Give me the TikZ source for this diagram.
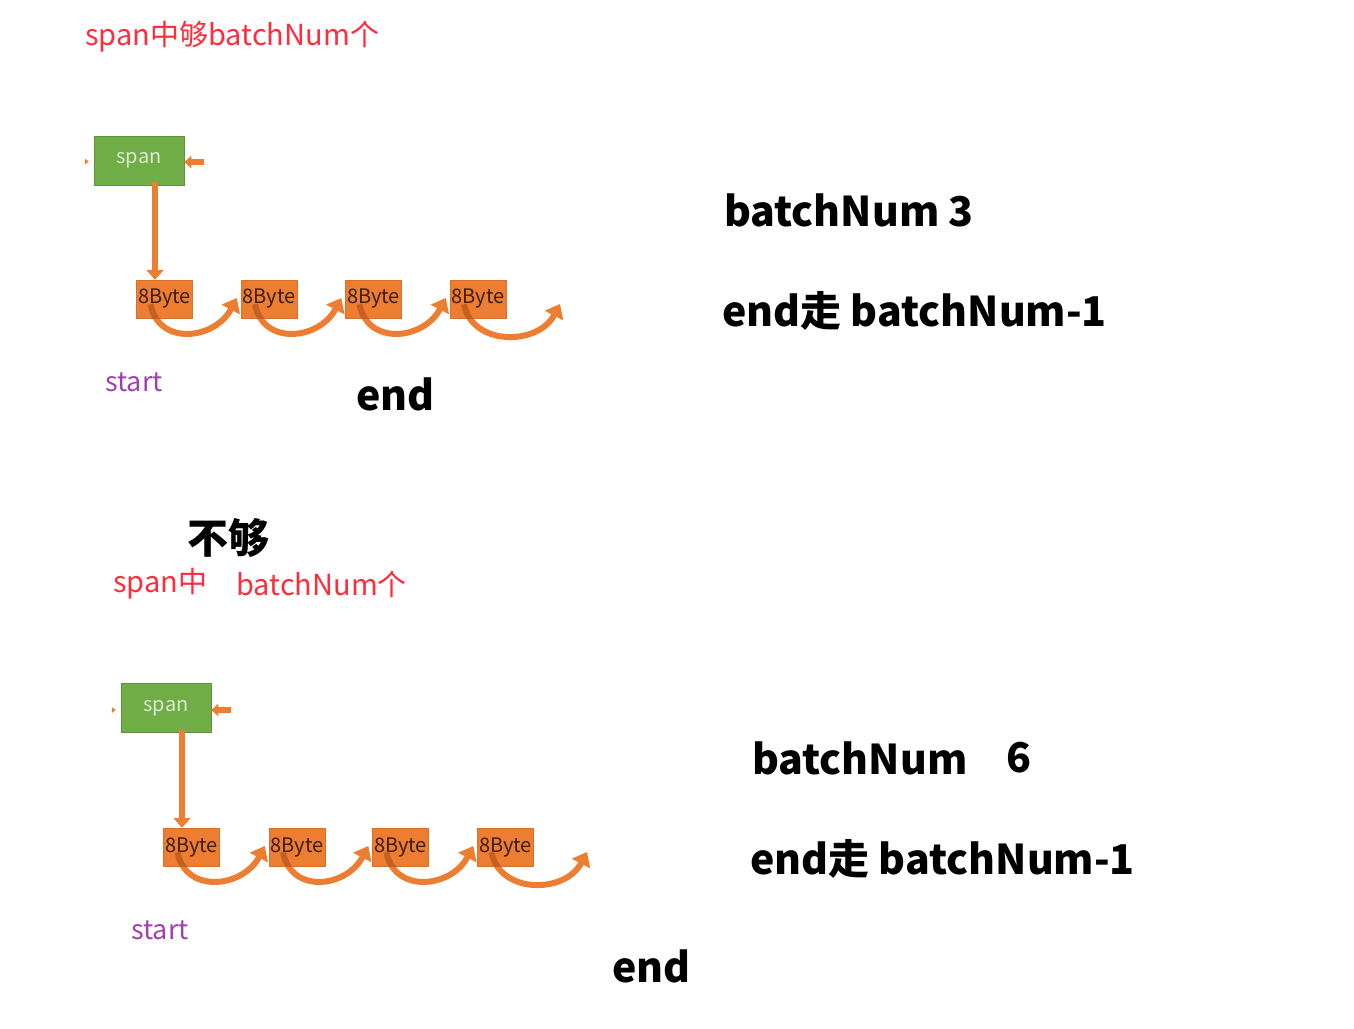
\documentclass[tikz,border=0pt]{standalone}
\usepackage{fontspec}
\setmainfont{Noto Sans CJK SC}
\usetikzlibrary{arrows.meta,calc}
\definecolor{og}{HTML}{ED7D31}
\definecolor{ogd}{HTML}{B8571C}
\definecolor{gr}{HTML}{70AD47}
\definecolor{rd}{HTML}{FF2D3C}
\definecolor{pu}{HTML}{A040B0}
\newcommand\hopdraw[2]{%
  \draw[hop] ($(#1.south)+(-14,-14)$) .. controls +(8,42) and +(-22,42) .. (#2);
  \begin{scope}
    \clip (#1.south west) rectangle (#1.north east);
    \draw[hop, draw=ogd, opacity=0.75] ($(#1.south)+(-14,-14)$) .. controls +(8,42) and +(-22,42) .. (#2);
  \end{scope}}
\begin{document}
\begin{tikzpicture}[x=1pt,y=-1pt,
 txt/.style={inner sep=0, anchor=west},
 bigtxt/.style={txt, font=\fontsize{41}{44}\selectfont\bfseries},
 redtxt/.style={txt, text=rd, font=\fontsize{29}{31}\selectfont},
 starttxt/.style={txt, text=pu, font=\fontsize{27}{29}\selectfont},
 spanbox/.style={fill=gr, draw=gr!85!black, line width=0.5, minimum width=90, minimum height=49, text=gr!25!white, font=\fontsize{20}{22}\selectfont, inner sep=0},
 bytebox/.style={fill=og, draw=og!90!black, line width=0.4, minimum width=56, minimum height=38, inner sep=0, text=black!75!og, font=\fontsize{20}{21}\selectfont},
 downarrow/.style={draw=og, line width=6.5, -{Triangle[width=17,length=10]}},
 smallarrow/.style={draw=og, line width=6, -{Triangle[width=12,length=7]}},
 hop/.style={draw=og, line width=6, -{Triangle[width=20,length=13]}},
]
\useasboundingbox (0,0) rectangle (1354,1028);

% ---------- top part ----------
\node[redtxt] (t1) at (85,37) {span中够batchNum个};
\node[spanbox] (s1) at (139,160.5) {\raisebox{-2pt}{span}};
\node[bytebox] (a1) at (164.5,299) {8Byte};
\node[bytebox] (a2) at (269,299) {8Byte};
\node[bytebox] (a3) at (373.5,299) {8Byte};
\node[bytebox] (a4) at (478,299) {8Byte};
\coordinate (ae) at (560,304);
\coordinate (ar) at (204,162);
\draw[downarrow] ($(s1.south)+(16,-3)$) -- ($(a1.north)+(-9.5,0)$);
\draw[smallarrow] (ar) -- ($(s1.east)+(0,1.5)$);
\fill[og] ($(s1.west)+(-9,-2)$) -- ++(0,6) -- ++(4,-3) -- cycle;
\hopdraw{a1}{$(a2.west)+(-4,-1)$}
\hopdraw{a2}{$(a3.west)+(-4,-1)$}
\hopdraw{a3}{$(a4.west)+(-4,-1)$}
\hopdraw{a4}{ae}
\node[starttxt] (st1) at (105,382) {start};
\node[bigtxt] (e1) at (356,394) {end};
\node[bigtxt] (b1) at (724,210) {batchNum 3};
\node[bigtxt] (w1) at (722,311) {end走 batchNum-1};

% ---------- bottom part ----------
\node[bigtxt] (n2) at (187,538) {不够};
\node[redtxt] (t2a) at (113,584) {span中};
\node[redtxt] (t2b) at (236,584) {batchNum个};
\node[spanbox] (s2) at (166,708) {\raisebox{-2pt}{span}};
\node[bytebox] (c1) at (191.5,847) {8Byte};
\node[bytebox] (c2) at (297,847) {8Byte};
\node[bytebox] (c3) at (400.5,847) {8Byte};
\node[bytebox] (c4) at (505.5,847) {8Byte};
\coordinate (ce) at (587,852);
\coordinate (cr) at (231,710);
\draw[downarrow] ($(s2.south)+(16,-3)$) -- ($(c1.north)+(-9.5,0)$);
\draw[smallarrow] (cr) -- ($(s2.east)+(0,2)$);
\fill[og] ($(s2.west)+(-9,-1)$) -- ++(0,6) -- ++(4,-3) -- cycle;
\hopdraw{c1}{$(c2.west)+(-4,-1)$}
\hopdraw{c2}{$(c3.west)+(-4,-1)$}
\hopdraw{c3}{$(c4.west)+(-4,-1)$}
\hopdraw{c4}{ce}
\node[starttxt] (st2) at (131,930) {start};
\node[bigtxt] (e2) at (612,966) {end};
\node[bigtxt] (b2) at (752,758) {batchNum};
\node[bigtxt] (b2n) at (1006,758) {6};
\node[bigtxt] (w2) at (750,859) {end走 batchNum-1};
\end{tikzpicture}
\end{document}
